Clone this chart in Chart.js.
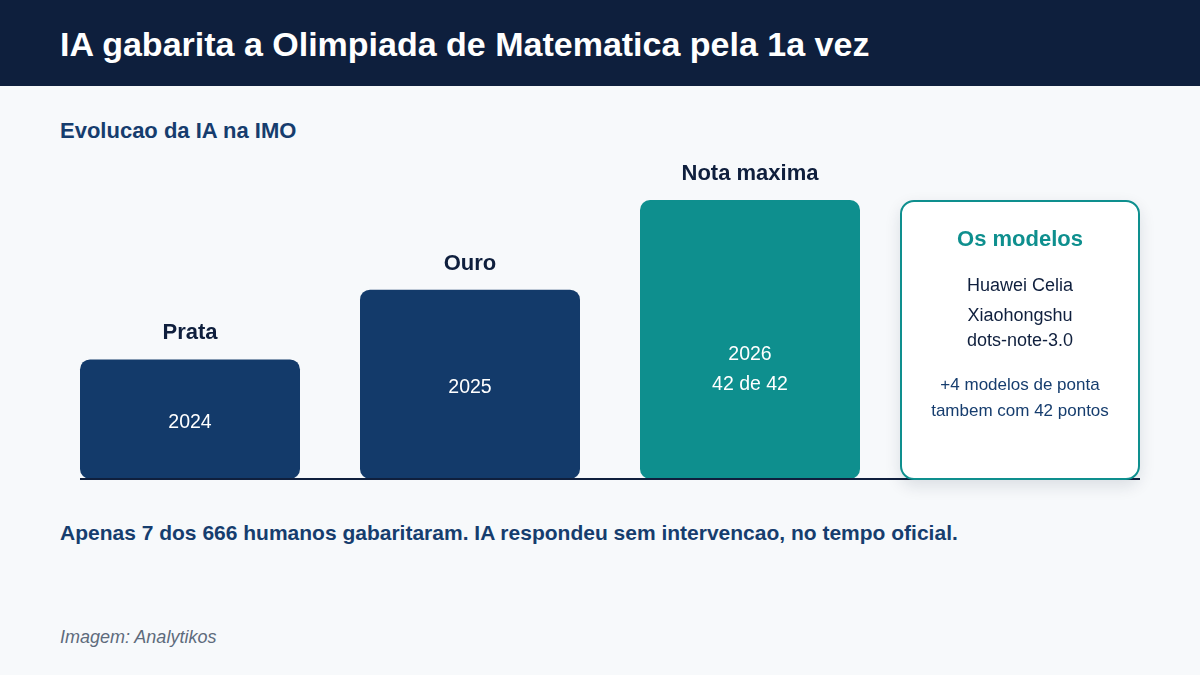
<!DOCTYPE html>
<html>
<head>
<meta charset="utf-8">
<script src="https://cdn.jsdelivr.net/npm/chart.js@4.4.1/dist/chart.umd.min.js"></script>
<style>
  html, body { margin:0; padding:0; }
  body { width:1200px; height:675px; background:#f7f9fb; font-family:"Liberation Sans", Arial, sans-serif; position:relative; overflow:hidden; }
  #header { position:absolute; left:0; top:0; width:1200px; height:86px; background:#0e1f3d; }
  #header h1 { position:absolute; left:60px; top:0; margin:0; line-height:88px; font-size:34px; font-weight:bold; color:#ffffff; }
  #sub { position:absolute; left:60px; top:118px; font-size:22px; font-weight:bold; color:#163d6e; }
  #note { position:absolute; left:60px; top:521px; font-size:21px; font-weight:bold; color:#163d6e; }
  #src { position:absolute; left:60px; top:627px; font-size:18px; font-style:italic; color:#5e6b7c; }
  #wrap { position:absolute; left:0; top:140px; width:1200px; height:360px; }
  #card { position:absolute; left:900px; top:200px; width:236px; height:276px; background:#fff; border:2px solid #0e8f8e; border-radius:14px; box-shadow:0 6px 16px rgba(15,31,61,0.12); text-align:center; color:#0f1f3d; }
  #card .t { margin-top:23px; font-size:22px; line-height:28px; font-weight:bold; color:#0e8f8e; }
  #card .m { font-size:18px; line-height:25px; color:#0f1f3d; }
  #card .m1 { margin-top:20px; }
  #card .m2 { margin-top:5px; }
  #card .e { margin-top:19px; font-size:17px; line-height:26px; color:#163d6e; }
</style>
</head>
<body>
<div id="header"><h1>IA gabarita a Olimpiada de Matematica pela 1a vez</h1></div>
<div id="sub">Evolucao da IA na IMO</div>
<div id="wrap"><canvas id="c" width="1200" height="360"></canvas></div>
<div id="card">
  <div class="t">Os modelos</div>
  <div class="m m1">Huawei Celia</div>
  <div class="m m2">Xiaohongshu<br>dots-note-3.0</div>
  <div class="e">+4 modelos de ponta<br>tambem com 42 pontos</div>
</div>
<div id="note">Apenas 7 dos 666 humanos gabaritaram. IA respondeu sem intervencao, no tempo oficial.</div>
<div id="src">Imagem: Analytikos</div>
<script>
const categories = ["2024", "2025", "2026"];
const levels = [120, 190, 280];
const medals = ["Prata", "Ouro", "Nota maxima"];
const innerLabels = [["2024"], ["2025"], ["2026", "42 de 42"]];
const barColors = ["#133a6a", "#133a6a", "#0e8f8e"];

const labelPlugin = {
  id: 'labels',
  afterDatasetsDraw(chart) {
    const ctx = chart.ctx;
    const meta = chart.getDatasetMeta(0);
    ctx.save();
    const yb = chart.scales.y.getPixelForValue(0);
    ctx.strokeStyle = '#0f1f3d';
    ctx.lineWidth = 2;
    ctx.beginPath();
    ctx.moveTo(80, yb);
    ctx.lineTo(1140, yb);
    ctx.stroke();
    meta.data.forEach((bar, i) => {
      ctx.textAlign = 'center';
      ctx.textBaseline = 'middle';
      ctx.fillStyle = '#0f1f3d';
      ctx.font = 'bold 22px "Liberation Sans", Arial, sans-serif';
      ctx.fillText(medals[i], bar.x, bar.y - 26);
      ctx.fillStyle = '#ffffff';
      ctx.font = '19.5px "Liberation Sans", Arial, sans-serif';
      const lines = innerLabels[i];
      const mid = (bar.y + bar.base) / 2 + 3 + (lines.length > 1 ? 27 : 0);
      const lh = 30;
      lines.forEach((t, k) => {
        ctx.fillText(t, bar.x, mid + (k - (lines.length - 1) / 2) * lh);
      });
    });
    ctx.restore();
  }
};

new Chart(document.getElementById('c'), {
  type: 'bar',
  data: {
    labels: categories,
    datasets: [{
      data: levels,
      backgroundColor: barColors,
      borderRadius: 10,
      borderSkipped: false,
      categoryPercentage: 1,
      barPercentage: 220 / 280
    }]
  },
  options: {
    responsive: false,
    animation: false,
    devicePixelRatio: 1,
    layout: { padding: { left: 50, right: 310, top: 60, bottom: 21 } },
    plugins: { legend: { display: false }, tooltip: { enabled: false } },
    scales: {
      x: { display: false, grid: { display: false } },
      y: { display: false, min: 0, max: 280, grid: { display: false } }
    }
  },
  plugins: [labelPlugin]
});
</script>
</body>
</html>
